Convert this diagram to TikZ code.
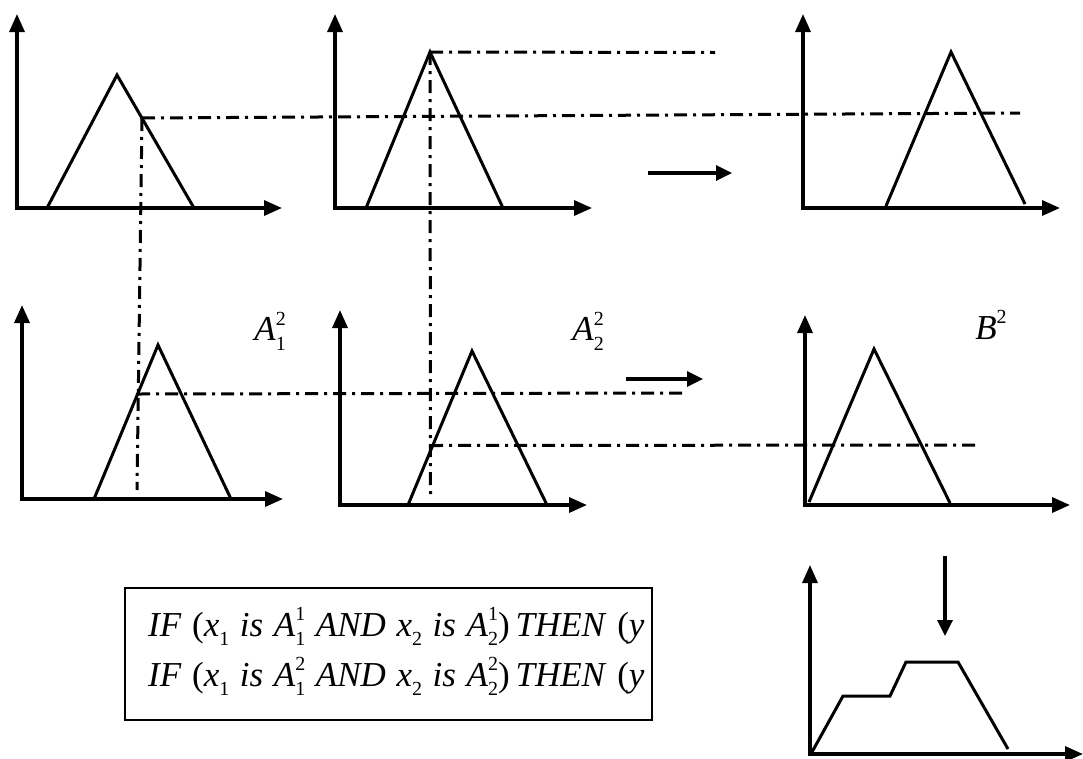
\documentclass[tikz,border=0pt]{standalone}
\usepackage{fontspec}
\setmainfont{Liberation Serif}
\usetikzlibrary{arrows.meta}
\newcommand{\idxsmall}{\upshape\fontsize{20}{20}\selectfont}
\newcommand{\subsup}[3]{\textit{#1}\rlap{\raisebox{-0.27em}{\idxsmall #2}}\raisebox{0.45em}{\idxsmall #3}}
\newcommand{\subonly}[2]{\textit{#1}\raisebox{-0.27em}{\idxsmall #2}}
\newcommand{\suponly}[2]{\textit{#1}\raisebox{0.45em}{\idxsmall #2}}
\newcommand{\widespacing}{\spaceskip=10.6pt\relax}
\tikzset{
  axes/.style={line width=3.3pt,{Triangle[length=18pt,width=15pt]}-{Triangle[length=18pt,width=15pt]}},
  mf/.style={line width=3pt,line join=miter},
  guide/.style={line width=3pt,dash pattern=on 13pt off 6pt on 3pt off 6pt},
  flow/.style={line width=3.3pt,-{Triangle[length=16pt,width=15pt]}},
  lbl/.style={font=\fontsize{35}{40}\selectfont,inner sep=0pt},
  ruletext/.style={font=\fontsize{35}{40}\selectfont,inner sep=0pt,anchor=base west},
  rulebox/.style={line width=1.3pt}
}
\begin{document}
\begin{tikzpicture}[x=1pt,y=-1pt]
\useasboundingbox (0,0) rectangle (1083,758);

% ---- panel 1 (top left)
\coordinate (p1y) at (17,14); \coordinate (p1x) at (282,208);
\draw[axes] (p1y) |- (p1x);
\coordinate (t1a) at (47,208); \coordinate (t1b) at (117,75); \coordinate (t1c) at (194,208);
\draw[mf] (t1a) -- (t1b) -- (t1c);

% ---- panel 2 (top middle)
\coordinate (p2y) at (335,14); \coordinate (p2x) at (592,208);
\draw[axes] (p2y) |- (p2x);
\coordinate (t2a) at (366,208); \coordinate (t2b) at (430,52); \coordinate (t2c) at (503,208);
\draw[mf] (t2a) -- (t2b) -- (t2c);

% ---- panel 3 (top right)
\coordinate (p3y) at (803,14); \coordinate (p3x) at (1060,208);
\draw[axes] (p3y) |- (p3x);
\coordinate (t3a) at (886,206); \coordinate (t3b) at (951,52); \coordinate (t3c) at (1025,204);
\draw[mf] (t3a) -- (t3b) -- (t3c);

% ---- panel 4 (middle left)
\coordinate (p4y) at (22,305); \coordinate (p4x) at (283,499);
\draw[axes] (p4y) |- (p4x);
\coordinate (t4a) at (94,499); \coordinate (t4b) at (158,345); \coordinate (t4c) at (231,499);
\draw[mf] (t4a) -- (t4b) -- (t4c);
\node[lbl] (la12) at (270,331) {\subsup{A}{1}{2}};

% ---- panel 5 (middle)
\coordinate (p5y) at (340,310); \coordinate (p5x) at (587,505);
\draw[axes] (p5y) |- (p5x);
\coordinate (t5a) at (408,505); \coordinate (t5b) at (472,351); \coordinate (t5c) at (547,505);
\draw[mf] (t5a) -- (t5b) -- (t5c);
\node[lbl] (la22) at (588,331) {\subsup{A}{2}{2}};

% ---- panel 6 (middle right)
\coordinate (p6y) at (805,315); \coordinate (p6x) at (1070,505);
\draw[axes] (p6y) |- (p6x);
\coordinate (t6a) at (809,502); \coordinate (t6b) at (874,349); \coordinate (t6c) at (950,503);
\draw[mf] (t6a) -- (t6b) -- (t6c);
\node[lbl] (lb2) at (991,325) {\suponly{B}{2}};

% ---- panel 7 (aggregated output)
\coordinate (p7y) at (810,565); \coordinate (p7x) at (1083,754);
\draw[axes] (p7y) |- (p7x);
\draw[mf] (812,752) -- (843,696) -- (890,696) -- (906,662) -- (958,662) -- (1008,749);

% ---- guide lines (dash-dot)
\coordinate (g1s) at (142,118); \coordinate (g1e) at (1020,113);
\coordinate (g1d) at (137,490);
\draw[guide] (g1s) -- (g1e);
\draw[guide] (g1s) -- (g1d);
\coordinate (g2e) at (715,52.5); \coordinate (g2d) at (430.5,495);
\draw[guide] (t2b) -- (g2e);
\draw[guide] (t2b) -- (g2d);
\coordinate (g3s) at (137,394); \coordinate (g3e) at (685,393);
\draw[guide] (g3s) -- (g3e);
\coordinate (g4s) at (430,445.5); \coordinate (g4e) at (978,445);
\draw[guide] (g4s) -- (g4e);

% ---- flow arrows
\coordinate (f1s) at (648,173); \coordinate (f1e) at (732,173);
\draw[flow] (f1s) -- (f1e);
\coordinate (f2s) at (626,379); \coordinate (f2e) at (703,379);
\draw[flow] (f2s) -- (f2e);
\coordinate (f3s) at (945,556); \coordinate (f3e) at (945,636);
\draw[flow] (f3s) -- (f3e);

% ---- rule box
\begin{scope}
\clip (125,588) rectangle (652,720);
\node[ruletext] (r1) at (148,636) {\widespacing\textit{IF} (\subonly{x}{1} \textit{is} \subsup{A}{1}{1}\ \textit{AND} \subonly{x}{2} \textit{is} \subsup{A}{2}{1})\,\textit{THEN} (\textit{y}\textit{\ \ \ \ }};
\node[ruletext] (r2) at (148,686) {\widespacing\textit{IF} (\subonly{x}{1} \textit{is} \subsup{A}{1}{2}\ \textit{AND} \subonly{x}{2} \textit{is} \subsup{A}{2}{2})\,\textit{THEN} (\textit{y}\textit{\ \ \ \ }};
\end{scope}
\draw[rulebox] (125,588) rectangle (652,720);
\end{tikzpicture}
\end{document}
